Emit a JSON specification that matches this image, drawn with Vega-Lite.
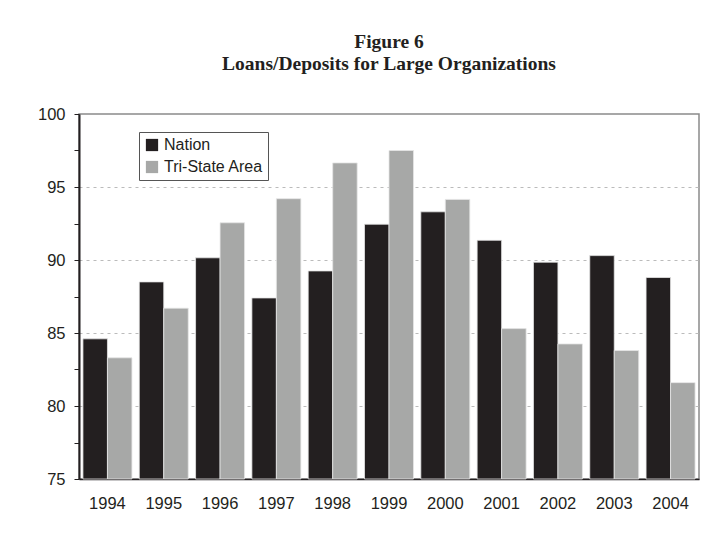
{
  "$schema": "https://vega.github.io/schema/vega-lite/v6.json",
  "width": 620,
  "height": 365,
  "autosize": {"type": "none"},
  "padding": {"left": 79, "top": 114, "right": 26, "bottom": 69},
  "background": "white",
  "title": {
    "text": ["Figure 6", "Loans/Deposits for Large Organizations"],
    "font": "Liberation Serif",
    "fontSize": 19.5,
    "fontWeight": "bold",
    "color": "#231f20",
    "anchor": "middle",
    "offset": 32,
    "lineHeight": 22
  },
  "config": {
    "view": {"stroke": "#8a8a8a", "strokeWidth": 1.5},
    "font": "Liberation Sans"
  },
  "data": {
    "values": [
      {"year": "1994", "series": "Nation", "value": 84.6},
      {"year": "1994", "series": "Tri-State Area", "value": 83.3},
      {"year": "1995", "series": "Nation", "value": 88.5},
      {"year": "1995", "series": "Tri-State Area", "value": 86.7},
      {"year": "1996", "series": "Nation", "value": 90.15},
      {"year": "1996", "series": "Tri-State Area", "value": 92.55},
      {"year": "1997", "series": "Nation", "value": 87.4},
      {"year": "1997", "series": "Tri-State Area", "value": 94.2},
      {"year": "1998", "series": "Nation", "value": 89.25},
      {"year": "1998", "series": "Tri-State Area", "value": 96.65},
      {"year": "1999", "series": "Nation", "value": 92.45},
      {"year": "1999", "series": "Tri-State Area", "value": 97.5},
      {"year": "2000", "series": "Nation", "value": 93.3},
      {"year": "2000", "series": "Tri-State Area", "value": 94.15},
      {"year": "2001", "series": "Nation", "value": 91.35},
      {"year": "2001", "series": "Tri-State Area", "value": 85.3},
      {"year": "2002", "series": "Nation", "value": 89.85},
      {"year": "2002", "series": "Tri-State Area", "value": 84.25},
      {"year": "2003", "series": "Nation", "value": 90.3},
      {"year": "2003", "series": "Tri-State Area", "value": 83.8},
      {"year": "2004", "series": "Nation", "value": 88.8},
      {"year": "2004", "series": "Tri-State Area", "value": 81.6}
    ]
  },
  "mark": {"type": "bar", "stroke": "#e6e6e6", "strokeWidth": 0.8},
  "encoding": {
    "x": {
      "field": "year",
      "type": "nominal",
      "scale": {"paddingInner": 0.13, "paddingOuter": 0.07},
      "axis": {
        "title": null,
        "labelAngle": 0,
        "ticks": false,
        "domain": true,
        "domainColor": "#231f20",
        "domainWidth": 1.5,
        "labelFontSize": 16.5,
        "labelColor": "#231f20",
        "labelPadding": 16
      }
    },
    "xOffset": {"field": "series", "type": "nominal"},
    "y": {
      "field": "value",
      "type": "quantitative",
      "scale": {"domain": [75, 100], "zero": false, "nice": false},
      "axis": {
        "title": null,
        "values": [75, 77.5, 80, 82.5, 85, 87.5, 90, 92.5, 95, 97.5, 100],
        "labelExpr": "datum.value % 5 == 0 ? datum.label : ''",
        "labelFontSize": 16.5,
        "labelColor": "#231f20",
        "labelPadding": 9,
        "tickSize": 5,
        "tickColor": "#231f20",
        "domainColor": "#231f20",
        "domainWidth": 2,
        "grid": true,
        "gridColor": "#bbbbbb",
        "gridDash": [3, 4],
        "gridWidth": 1,
        "gridOpacity": {"condition": {"test": "datum.value % 5 == 0 && datum.value > 75 && datum.value < 100", "value": 1}, "value": 0}
      }
    },
    "y2": {"datum": 75},
    "color": {
      "field": "series",
      "type": "nominal",
      "scale": {"domain": ["Nation", "Tri-State Area"], "range": ["#231f20", "#a7a8a7"]},
      "legend": {
        "title": null,
        "orient": "none",
        "legendX": 60,
        "legendY": 18,
        "symbolType": "square",
        "symbolSize": 150,
        "symbolStrokeWidth": 0,
        "labelFontSize": 16,
        "labelColor": "#231f20",
        "strokeColor": "#555555",
        "padding": 5,
        "rowPadding": 6,
        "labelOffset": 4,
        "fillColor": "white"
      }
    }
  }
}
